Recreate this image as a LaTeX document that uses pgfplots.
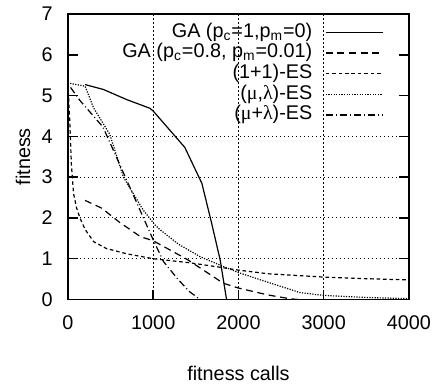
\documentclass[border=0pt]{standalone}
\usepackage{fontspec}
\setmainfont{Liberation Sans}
\newfontfamily\greek{Liberation Serif}
\usepackage{pgfplots}
\pgfplotsset{compat=1.18}
\begin{document}
\begin{tikzpicture}
\begin{axis}[
  at={(0,0)}, anchor=south west,
  scale only axis, width=170.5bp, height=142.75bp,
  xmin=0, xmax=4000, ymin=0, ymax=7,
  xtick={0,1000,2000,3000,4000},
  xticklabels={0,1000,2000,3000,4000},
  ytick={0,1,2,3,4,5,6,7},
  xtick pos=lower, ytick pos=both,
  tick align=inside,
  major tick length=5bp,
  axis line style={line width=0.75bp},
  every tick/.style={line width=0.75bp, black},
  xmajorgrids,
  extra y ticks={1,2,3,4},
  extra y tick labels={},
  extra y tick style={grid=major},
  grid style={line width=0.55bp, black, dash pattern=on 0.6bp off 1.4bp},
  /pgf/number format/assume math mode=true,
  tick label style={font=\fontsize{9.9bp}{11.9bp}\selectfont},
  yticklabel style={xshift=-4.1bp},
  xticklabel style={yshift=-4.4bp},
  label style={font=\fontsize{9.9bp}{11.9bp}\selectfont},
  xlabel={fitness calls},
  ylabel={fitness},
  xlabel style={at={(axis description cs:0.5,-0.282)}, anchor=base},
  ylabel style={at={(axis description cs:-0.1114,0.5)}, anchor=base},
  legend plot pos=right,
  legend cell align=right,
  legend image code/.code={\draw[#1] (0bp,0bp) -- (28.5bp,0bp);},
  legend style={at={(axis description cs:0.92522,0.97233)}, anchor=north east,
    draw=none, fill=none, inner sep=0pt, outer sep=0pt,
    row sep=0pt, column sep=6.5bp,
    font=\fontsize{9.9bp}{11.9bp}\selectfont,
    nodes={inner sep=0pt, text height=7.6bp, text depth=2.75bp}},
]
\addplot[black, line width=0.6bp] coordinates {
(200,5.27) (415,5.15) (690,4.9) (960,4.69) (1000,4.62) (1370,3.73) (1570,2.85) (1685,1.87) (1785,0.97) (1860,0)};
\addlegendentry{GA (p\textsubscript{c}=1,p\textsubscript{m}=0)}
\addplot[black, line width=0.6bp, dash pattern=on 3.5bp off 2.3bp] coordinates {
(200,2.43) (395,2.24) (600,1.9) (850,1.54) (1000,1.44) (1400,0.98) (1640,0.65) (1820,0.4) (2000,0.28) (2350,0.11) (2600,0.02) (2700,0)};
\addlegendentry{GA (p\textsubscript{c}=0.8, p\textsubscript{m}=0.01)}
\addplot[black, line width=0.6bp, dash pattern=on 1.8bp off 1.4bp] coordinates {
(0,5.25) (20,4.4) (40,3.3) (65,2.6) (100,2.25) (140,2.0) (200,1.72) (300,1.42) (450,1.25) (690,1.12) (1000,1.0) (1430,0.9) (1820,0.78) (2000,0.72) (2350,0.63) (3000,0.55) (3500,0.51) (4000,0.48)};
\addlegendentry{(1+1)-ES}
\addplot[black, line width=0.6bp, dash pattern=on 0.6bp off 0.7bp] coordinates {
(25,5.3) (200,5.23) (300,4.7) (490,4.05) (650,3.0) (880,2.2) (1020,1.83) (1080,1.71) (1300,1.35) (1550,1.05) (1820,0.81) (2000,0.66) (2350,0.42) (2720,0.17) (3000,0.1) (3500,0.05) (4000,0.02)};
\addlegendentry{({\greek μ},{\greek λ})-ES}
\addplot[black, line width=0.6bp, dash pattern=on 3.5bp off 1.5bp on 0.5bp off 1.5bp] coordinates {
(30,5.2) (140,4.88) (410,4.23) (690,2.92) (1000,1.46) (1120,0.93) (1280,0.52) (1420,0.2) (1550,0)};
\addlegendentry{({\greek μ}+{\greek λ})-ES}
\end{axis}
\pgfresetboundingbox
\path[use as bounding box] (-34bp,-42.75bp) rectangle (182.5bp,149.75bp);
\end{tikzpicture}
\end{document}
